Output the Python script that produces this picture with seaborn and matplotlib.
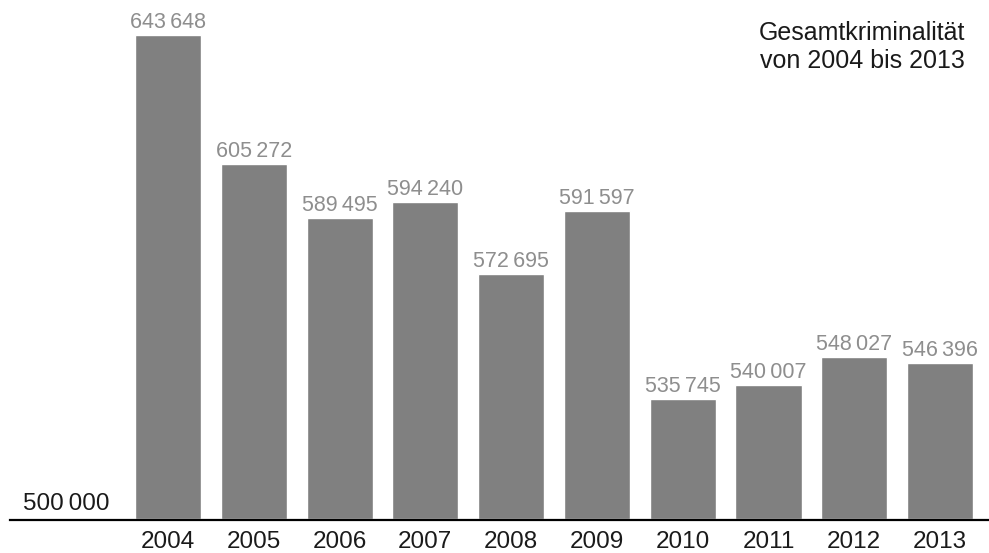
import matplotlib
matplotlib.use("Agg")
import matplotlib.pyplot as plt
import seaborn as sns
import pandas as pd

years = ["2004", "2005", "2006", "2007", "2008", "2009", "2010", "2011", "2012", "2013"]
values = [643648, 605272, 589495, 594240, 572695, 591597, 535745, 540007, 548027, 546396]
baseline = 500000
title_lines = ["Gesamtkriminalität", "von 2004 bis 2013"]

sns.set_theme(style="white")
plt.rcParams["font.family"] = ["Liberation Sans", "DejaVu Sans"]

df = pd.DataFrame({"year": years, "value": values})
df["height"] = df["value"] - baseline

fig = plt.figure(figsize=(9.89, 5.53), dpi=100)
ax = fig.add_axes([10 / 989, (553 - 519.5) / 553, 979 / 989, 519.5 / 553])

sns.barplot(data=df, x="year", y="height", color="#808080", saturation=1,
            width=0.77, ax=ax, bottom=baseline)

ax.set_xlim(-1.841, 9.57)
ax.set_ylim(baseline, 654000)
for s in ["top", "right", "left"]:
    ax.spines[s].set_visible(False)
ax.spines["bottom"].set_color("black")
ax.spines["bottom"].set_linewidth(1.6)
ax.set_xlabel("")
ax.set_ylabel("")
ax.set_yticks([])
ax.tick_params(axis="x", length=0, pad=8, labelsize=17.5, labelcolor="#1a1a1a")


def fmt(v):
    s = f"{v:,}"
    return s.replace(",", "\u2009")


for i, v in enumerate(values):
    ax.annotate(fmt(v), xy=(i, v), xytext=(0, 7), textcoords="offset pixels",
                ha="center", va="baseline", fontsize=15.5, color="#8e8e8e")

ax.annotate(fmt(baseline), xy=(-1.841, baseline), xytext=(13, 9.5),
            textcoords="offset pixels", ha="left", va="baseline",
            fontsize=17.5, color="#1a1a1a")

fig.text(965 / 989, 1 - 40 / 553, title_lines[0], ha="right", va="baseline",
         fontsize=18, color="#1a1a1a")
fig.text(965 / 989, 1 - 68 / 553, title_lines[1], ha="right", va="baseline",
         fontsize=18, color="#1a1a1a")

fig.savefig("out.png", dpi=100)
